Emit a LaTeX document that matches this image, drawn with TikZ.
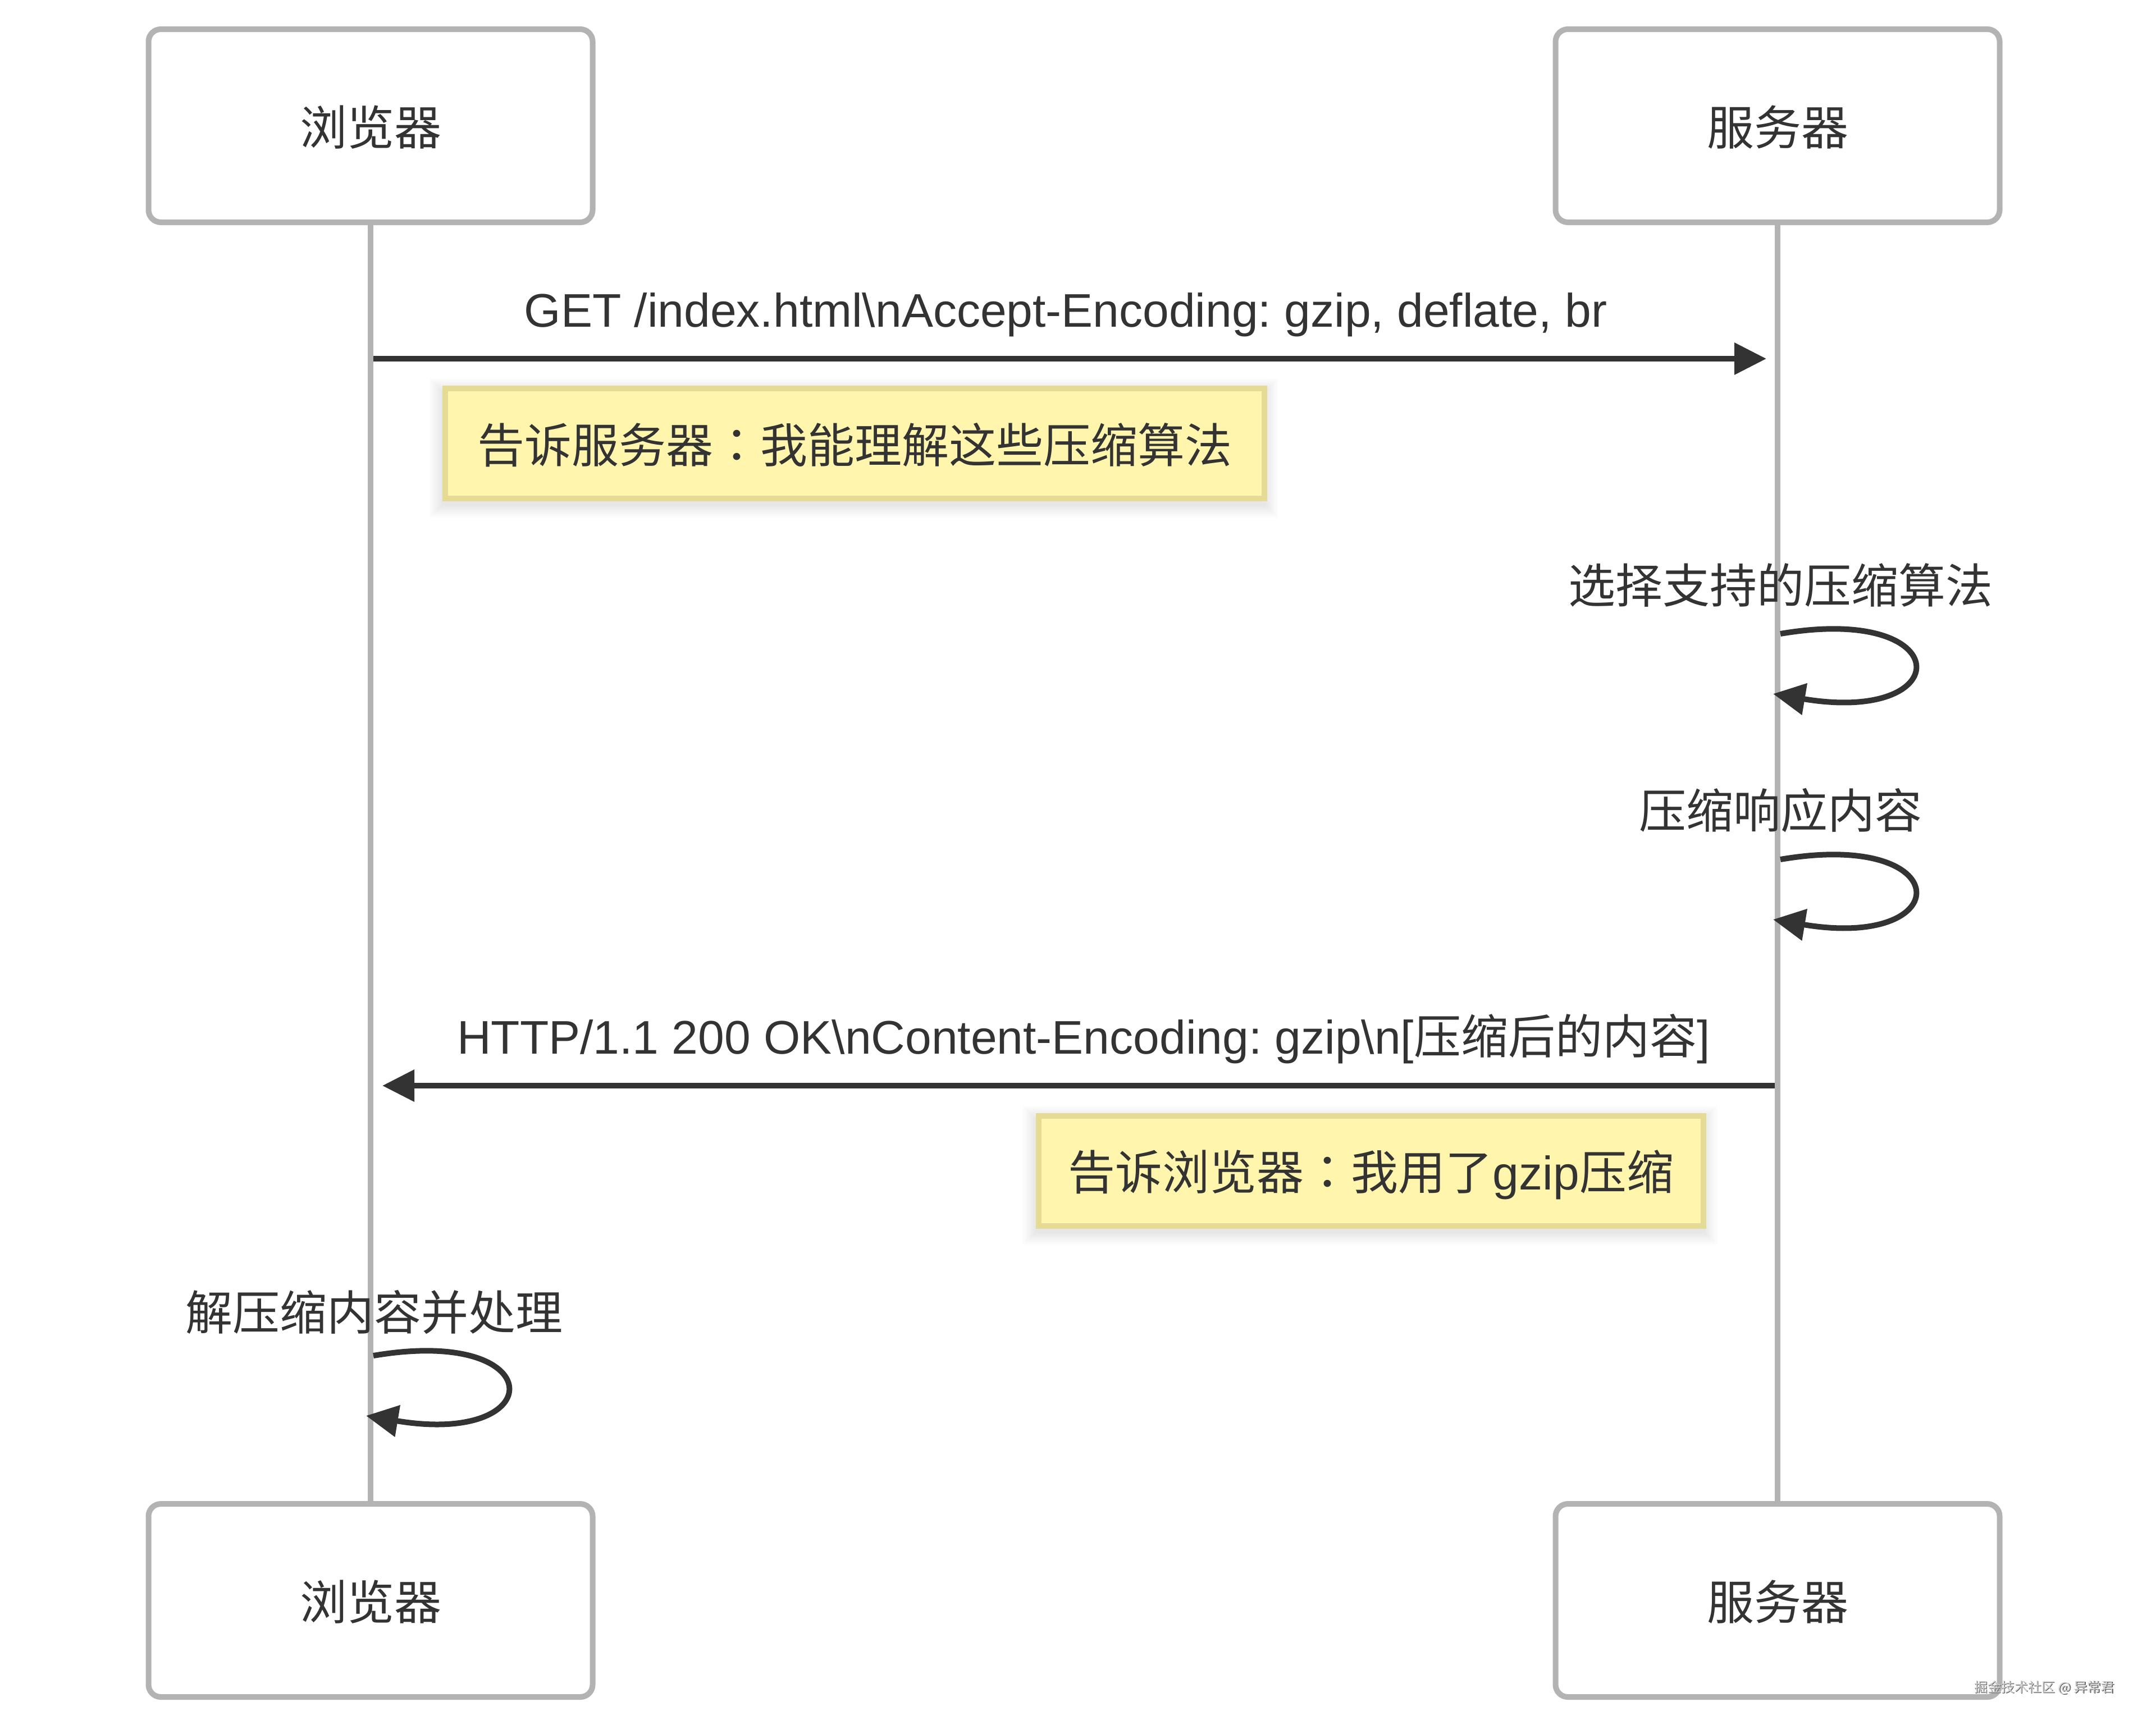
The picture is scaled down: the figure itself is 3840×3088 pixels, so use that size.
\documentclass[tikz,border=0pt]{standalone}
\usepackage{fontspec}
\setmainfont{Liberation Sans}
\newfontfamily\cjk{Noto Sans CJK SC}
\newfontfamily\cjkpunct{Noto Sans CJK TC}
\usetikzlibrary{arrows.meta}
\pgfdeclarelayer{background}
\pgfsetlayers{background,main}
\definecolor{ink}{HTML}{333333}
\definecolor{lifegray}{HTML}{B3B3B3}
\definecolor{notefill}{HTML}{FFF5AD}
\definecolor{noteline}{HTML}{E6DB94}
\definecolor{wmlight}{HTML}{D2D2D2}
\definecolor{wmdark}{HTML}{5A5A5A}
\frenchspacing
\begin{document}
\begin{tikzpicture}[x=0.25pt,y=-0.25pt,
  font=\fontsize{21pt}{25pt}\selectfont, text=ink,
  actor/.style={draw=lifegray, line width=2.5pt, fill=white, rounded corners=5.5pt,
    minimum width=197.75pt, minimum height=86pt, inner sep=0pt,
    text height=18pt, text depth=1pt, font=\fontsize{21pt}{25pt}\selectfont\cjk},
  lifeline/.style={draw=lifegray, line width=2.5pt},
  msg/.style={draw=ink, line width=2.5pt, -{Triangle[length=14.25pt,width=13.75pt]}},
  note/.style={draw=noteline, fill=notefill, line width=2.5pt, inner sep=0pt,
    minimum height=49pt, text height=18pt, text depth=1pt},
  lbl/.style={anchor=base, inner sep=0pt},
  cjklbl/.style={anchor=base, inner sep=0pt, font=\fontsize{21pt}{25pt}\selectfont\cjk},
  wmark/.style={inner sep=0pt, font=\fontsize{6pt}{7pt}\selectfont\cjk}
]
\useasboundingbox (0,0) rectangle (3840,3088);

% actors
\node[actor] (bTop) at (660,224) {浏览器};
\node[actor] (sTop) at (3166,224) {服务器};
\node[actor] (bBot) at (660,2851) {浏览器};
\node[actor] (sBot) at (3166,2851) {服务器};

% lifelines
\draw[lifeline] (bTop.south) -- (bBot.north);
\draw[lifeline] (sTop.south) -- (sBot.north);

% message 1
\coordinate (m1a) at (665,639);
\coordinate (m1b) at (3146,639);
\draw[msg] (m1a) -- (m1b);
\node[lbl] (m1t) at (1898,582) {GET /index.html\textbackslash nAccept-Encoding: gzip, deflate, br};

% note 1
\node[note, minimum width=364.75pt] (n1) at (1522.5,790) {\cjk 告诉服务器{\cjkpunct ：}我能理解这些压缩算法};

% self loop 1
\node[cjklbl] (l1t) at (3171,1074) {选择支持的压缩算法};
\coordinate (l1a) at (3171,1129);
\coordinate (l1b) at (3158,1236);
\draw[msg] (l1a) .. controls (3487,1075) and (3487,1291) .. (l1b);

% self loop 2
\node[cjklbl] (l2t) at (3171,1475) {压缩响应内容};
\coordinate (l2a) at (3171,1531);
\coordinate (l2b) at (3158,1638);
\draw[msg] (l2a) .. controls (3487,1477) and (3487,1693) .. (l2b);

% message 2
\coordinate (m2a) at (3161,1934);
\coordinate (m2b) at (681,1934);
\draw[msg] (m2a) -- (m2b);
\node[lbl] (m2t) at (1930,1877) {HTTP/1.1 200 OK\textbackslash nContent-Encoding: gzip\textbackslash n[{\cjk 压缩后的内容}]};

% note 2
\node[note, minimum width=296pt] (n2) at (2442,2085.5) {{\cjk 告诉浏览器{\cjkpunct ：}我用了}gzip{\cjk 压缩}};

% self loop 3
\node[cjklbl] (l3t) at (666,2369) {解压缩内容并处理};
\coordinate (l3a) at (665,2415);
\coordinate (l3b) at (652,2522);
\draw[msg] (l3a) .. controls (981,2361) and (981,2577) .. (l3b);

% watermark
\node[wmark, text=wmdark] (wms) at (3642.5,3007.5) {掘金技术社区 @ 异常君};
\node[wmark, text=wmlight] (wm) at (3641,3006) {掘金技术社区 @ 异常君};

% background and note shadows
\begin{pgfonlayer}{background}
  \fill[white] (0,0) rectangle (3840,3088);
  \foreach \n in {n1,n2}{
    \foreach \k in {0,3,...,21}{
      \fill[black, opacity=0.011]
        ([xshift=-\k*0.25pt-0.5pt, yshift=\k*0.25pt-2pt]\n.north west) rectangle
        ([xshift=\k*0.25pt-0.5pt, yshift=-\k*0.25pt-2pt]\n.south east);
    }
  }
\end{pgfonlayer}
\end{tikzpicture}
\end{document}
